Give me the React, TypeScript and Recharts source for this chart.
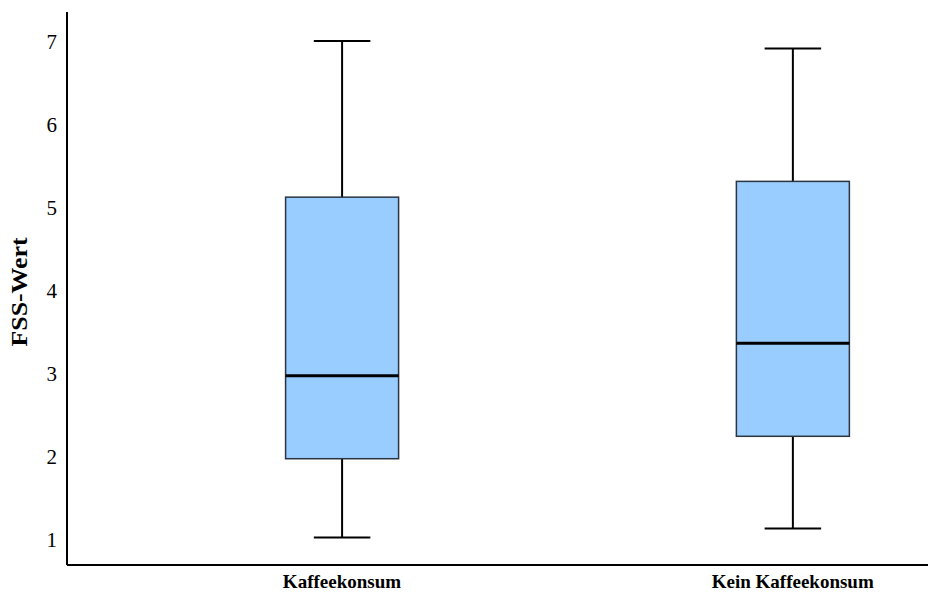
import React from 'react';
import { ComposedChart, Bar, XAxis, YAxis, Label } from 'recharts';

// box plot stats per group
const categories = ['Kaffeekonsum', 'Kein Kaffeekonsum'];
const minValues = [1.02, 1.13];
const q1Values = [1.97, 2.24];
const medianValues = [2.97, 3.36];
const q3Values = [5.12, 5.31];
const maxValues = [7.0, 6.91];
const yTicks = [1, 2, 3, 4, 5, 6, 7];

const data = categories.map((name, i) => ({
  pos: i + 1,
  name,
  range: [minValues[i], maxValues[i]],
  min: minValues[i],
  q1: q1Values[i],
  median: medianValues[i],
  q3: q3Values[i],
  max: maxValues[i],
}));

const FONT = '"Liberation Serif", "Times New Roman", serif';

const BoxShape = (props: any) => {
  const { x, y, width, height, payload } = props;
  const { min, q1, median, q3, max } = payload;
  const yOf = (v: number) => y + (height * (max - v)) / (max - min);
  const cx = x + width / 2;
  const capHalf = width / 4;
  return (
    <g>
      <line x1={cx} x2={cx} y1={yOf(max)} y2={yOf(q3)} stroke="#000" strokeWidth={2} />
      <line x1={cx} x2={cx} y1={yOf(q1)} y2={yOf(min)} stroke="#000" strokeWidth={2} />
      <line x1={cx - capHalf} x2={cx + capHalf} y1={yOf(max)} y2={yOf(max)} stroke="#000" strokeWidth={2} />
      <line x1={cx - capHalf} x2={cx + capHalf} y1={yOf(min)} y2={yOf(min)} stroke="#000" strokeWidth={2} />
      <rect
        x={x}
        y={yOf(q3)}
        width={width}
        height={yOf(q1) - yOf(q3)}
        fill="#99CCFF"
        stroke="#2b3440"
        strokeWidth={1.5}
      />
      <line x1={x} x2={x + width} y1={yOf(median)} y2={yOf(median)} stroke="#000" strokeWidth={3} />
    </g>
  );
};

const renderYLabel = () => (
  <text
    x={27}
    y={292}
    transform="rotate(-90 27 292)"
    textAnchor="middle"
    fontFamily={FONT}
    fontWeight="bold"
    fontSize={24}
    textLength={109}
    lengthAdjust="spacingAndGlyphs"
    fill="#000"
  >
    FSS-Wert
  </text>
);

export default function App() {
  return (
    <div style={{ position: 'absolute', left: 0, top: 0, background: '#fff' }}>
      <ComposedChart
        width={928}
        height={594}
        data={data}
        margin={{ top: 12, right: 0, bottom: 0, left: 0 }}
      >
        <XAxis
          type="number"
          dataKey="pos"
          domain={[0.39, 2.3]}
          ticks={[1, 2]}
          allowDataOverflow
          tickFormatter={(v: number) => categories[v - 1]}
          height={29}
          axisLine={{ stroke: '#000', strokeWidth: 2 }}
          tickLine={false}
          tickSize={6}
          tickMargin={4}
          tick={{ fill: '#000', fontFamily: FONT, fontSize: 19, fontWeight: 'bold' }}
        />
        <YAxis
          type="number"
          domain={[0.69, 7.35]}
          ticks={yTicks}
          allowDataOverflow
          width={67}
          axisLine={{ stroke: '#000', strokeWidth: 2 }}
          tickLine={false}
          tickSize={6}
          tickMargin={4}
          tick={{ fill: '#000', fontFamily: FONT, fontSize: 21 }}
        >
          <Label content={renderYLabel} />
        </YAxis>
        <Bar dataKey="range" barSize={113} shape={BoxShape} isAnimationActive={false} />
      </ComposedChart>
    </div>
  );
}
